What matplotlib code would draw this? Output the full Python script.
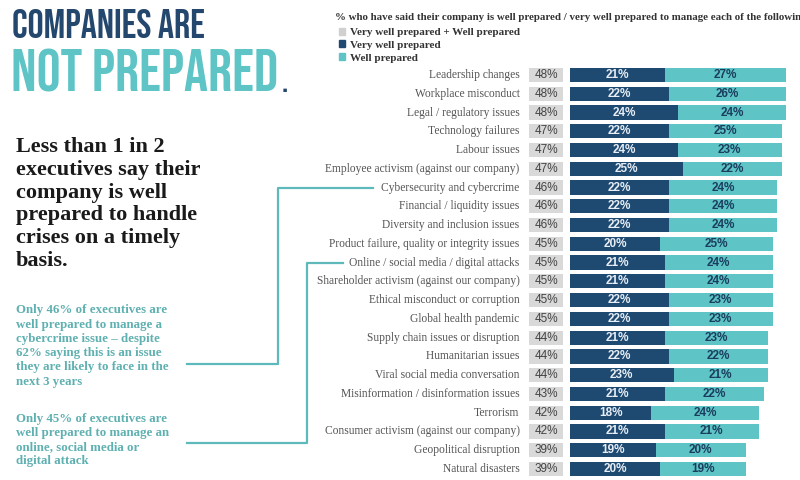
import numpy as np
import matplotlib
matplotlib.use("Agg")
import matplotlib.pyplot as plt
from matplotlib.patches import Patch

categories = [
    "Leadership changes", "Workplace misconduct", "Legal / regulatory issues",
    "Technology failures", "Labour issues", "Employee activism (against our company)",
    "Cybersecurity and cybercrime", "Financial / liquidity issues",
    "Diversity and inclusion issues", "Product failure, quality or integrity issues",
    "Online / social media / digital attacks", "Shareholder activism (against our company)",
    "Ethical misconduct or corruption", "Global health pandemic",
    "Supply chain issues or disruption", "Humanitarian issues",
    "Viral social media conversation", "Misinformation / disinformation issues",
    "Terrorism", "Consumer activism (against our company)",
    "Geopolitical disruption", "Natural disasters",
]
total = [48, 48, 48, 47, 47, 47, 46, 46, 46, 45, 45, 45, 45, 45, 44, 44, 44, 43, 42, 42, 39, 39]
very_well = [21, 22, 24, 22, 24, 25, 22, 22, 22, 20, 21, 21, 22, 22, 21, 22, 23, 21, 18, 21, 19, 20]
well = [27, 26, 24, 25, 23, 22, 24, 24, 24, 25, 24, 24, 23, 23, 23, 22, 21, 22, 24, 21, 20, 19]

NAVY = "#1e4a72"
TEAL = "#5ec4c6"
GREY = "#d9d9d9"
TEAL_TXT = "#5fb0b1"
SERIF = "Liberation Serif"
TITLE_FONT = ["Bebas Neue", "Oswald", "DejaVu Sans"]
W, H = 800, 480


def fx(x):
    return x / W


def fy(y):
    return 1 - y / H


fig = plt.figure(figsize=(8, 4.8), dpi=100)
fig.patch.set_facecolor("white")

# bars axis: 0% at x=570px, 4.5 px per %, rows 18.76 px apart
row = 18.76
top = 75 - row / 2
ax = fig.add_axes([fx(570), fy(top + row * len(categories)), 225 / W, row * len(categories) / H])
ax.set_xlim(0, 50)
ax.set_ylim(len(categories) - 0.5, -0.5)
ax.axis("off")

y = np.arange(len(categories))
ax.barh(y, [7.6] * len(y), left=-9.1, height=0.76, color=GREY, clip_on=False)
ax.barh(y, very_well, height=0.76, color=NAVY)
ax.barh(y, well, left=very_well, height=0.76, color=TEAL)

for i, (c, t, v, w) in enumerate(zip(categories, total, very_well, well)):
    ax.text(-11.2, i, c, ha="right", va="center", fontsize=8.3,
            family=SERIF, color="#555555", clip_on=False)
    ax.text(-5.3, i, f"{t}%", ha="center", va="center", fontsize=8.5,
            family="Liberation Sans", color="#444444", clip_on=False)
    ax.text(v / 2, i, f"{v}%", ha="center", va="center", fontsize=8.5,
            family="Liberation Sans", color="#e8eef5", fontweight="bold")
    ax.text(v + w / 2, i, f"{w}%", ha="center", va="center", fontsize=8.5,
            family="Liberation Sans", color="#1a3d5e", fontweight="bold")

# title
fig.text(fx(12), fy(38), "COMPANIES ARE", ha="left", va="baseline", fontsize=29,
         family=TITLE_FONT, color="#24476d")
fig.text(fx(11), fy(92), "NOT PREPARED", ha="left", va="baseline", fontsize=43,
         family=TITLE_FONT, color=TEAL)
fig.text(fx(282), fy(92), ".", ha="left", va="baseline", fontsize=24,
         family=TITLE_FONT, color="#24476d")

fig.text(fx(16), fy(204), "Less than 1 in 2\nexecutives say their\ncompany is well\n"
         "prepared to handle\ncrises on a timely\nbasis.",
         ha="left", va="center", fontsize=16, family=SERIF,
         fontweight="bold", color="#1a1a1a", linespacing=1.18)

fig.text(fx(16), fy(346), "Only 46% of executives are\nwell prepared to manage a\n"
         "cybercrime issue \u2013 despite\n62% saying this is an issue\n"
         "they are likely to face in the\nnext 3 years",
         ha="left", va="center", fontsize=9.3, family=SERIF,
         fontweight="bold", color=TEAL_TXT, linespacing=1.25)
fig.text(fx(16), fy(440), "Only 45% of executives are\nwell prepared to manage an\n"
         "online, social media or\ndigital attack",
         ha="left", va="center", fontsize=9.3, family=SERIF,
         fontweight="bold", color=TEAL_TXT, linespacing=1.25)

# connector lines
for xs, ys in [([187, 278, 278, 373], [364, 364, 188, 188]),
               ([187, 307, 307, 343], [443, 443, 263, 263])]:
    fig.add_artist(plt.Line2D([fx(v) for v in xs], [fy(v) for v in ys],
                              color="#5db9ba", lw=1.6))

# legend
fig.text(fx(335), fy(18), "% who have said their company is well prepared / very well "
         "prepared to manage each of the following",
         ha="left", va="center", fontsize=7.8, family=SERIF,
         fontweight="bold", color="#333333")
handles = [Patch(color="#d0d0d0"), Patch(color=NAVY), Patch(color=TEAL)]
labels = ["Very well prepared + Well prepared", "Very well prepared", "Well prepared"]
fig.legend(handles, labels, loc="upper left", bbox_to_anchor=(fx(332), fy(21)),
           frameon=False, handlelength=0.6, handleheight=0.6, handletextpad=0.4,
           labelspacing=0.3, borderpad=0.1,
           prop={"family": SERIF, "weight": "bold", "size": 8})
for txt in fig.legends[0].get_texts():
    txt.set_color("#333333")

fig.savefig("out.png", dpi=100)
